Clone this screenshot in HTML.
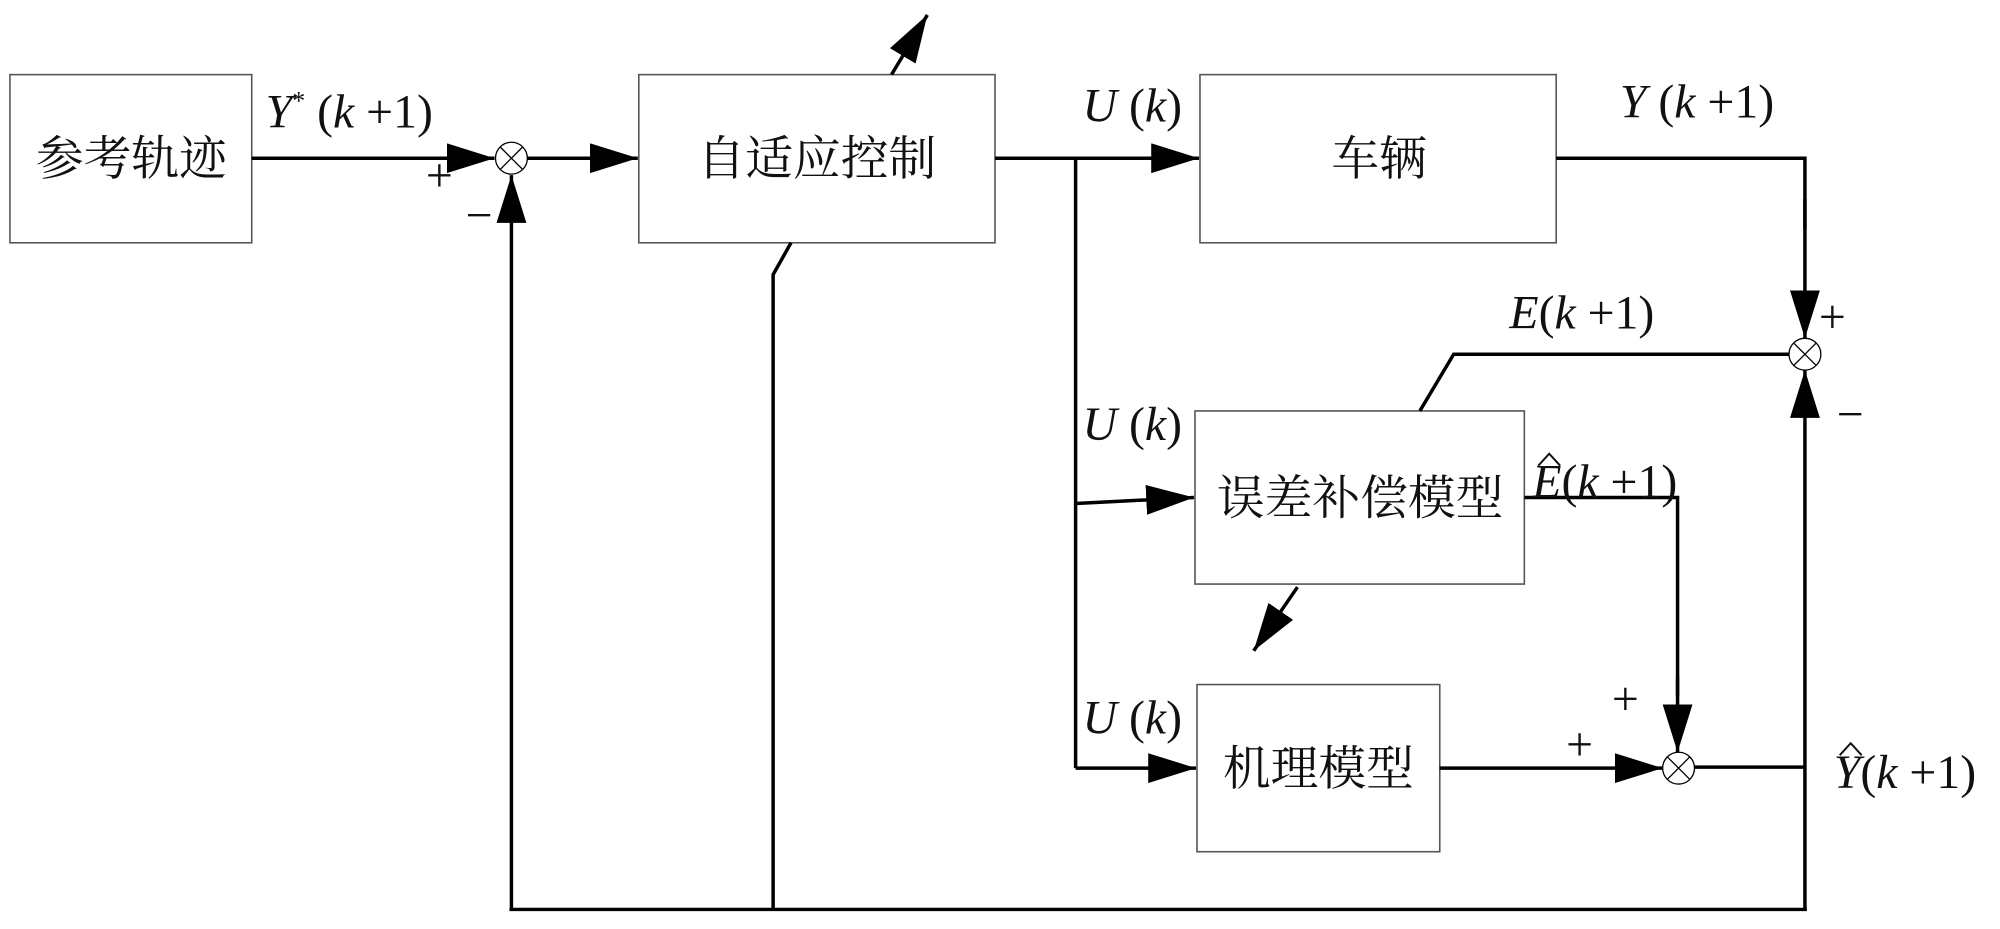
<!DOCTYPE html>
<html><head><meta charset="utf-8"><style>
html,body{margin:0;padding:0;background:#fff;}
svg{display:block;}
.cn{font-family:"Liberation Serif","Noto Serif CJK SC",serif;font-size:48px;fill:#111;}
.m{font-family:"Liberation Serif",serif;font-size:48px;fill:#111;}
.i{font-style:italic;}
</style></head><body>
<svg width="2000" height="929" viewBox="0 0 2000 929" xmlns="http://www.w3.org/2000/svg">
<defs>
<marker id="a" markerWidth="48" markerHeight="30" refX="48" refY="15" orient="auto" markerUnits="userSpaceOnUse">
<path d="M0,0 L48,15 L0,30 Z" fill="#000"/></marker>
</defs>
<g transform="scale(0.995)">
<g fill="none" stroke="#555" stroke-width="1.6">
<rect x="10" y="75" width="243" height="169"/>
<rect x="642" y="75" width="358" height="169"/>
<rect x="1206" y="75" width="358" height="169"/>
<rect x="1201" y="413" width="331" height="174"/>
<rect x="1203" y="688" width="244" height="168"/>
</g>
<g fill="none" stroke="#000" stroke-width="3.5">
<line x1="253" y1="159" x2="497" y2="159" marker-end="url(#a)"/>
<line x1="530" y1="159" x2="641" y2="159" marker-end="url(#a)"/>
<line x1="1000" y1="159" x2="1205" y2="159" marker-end="url(#a)"/>
<line x1="896" y1="75" x2="932" y2="15" marker-end="url(#a)"/>
<polyline points="795,244 777,276 777,914"/>
<line x1="514" y1="914" x2="514" y2="176" marker-end="url(#a)"/>
<line x1="512" y1="914" x2="1816" y2="914"/>
<line x1="1081" y1="159" x2="1081" y2="772"/>
<line x1="1081" y1="506" x2="1200" y2="500" marker-end="url(#a)"/>
<line x1="1081" y1="772" x2="1202" y2="772" marker-end="url(#a)"/>
<polyline points="1564,159 1814,159 1814,230"/>
<line x1="1814" y1="200" x2="1814" y2="340" marker-end="url(#a)"/>
<polyline points="1798,356 1461,356 1427,413"/>
<line x1="1814" y1="914" x2="1814" y2="372" marker-end="url(#a)"/>
<polyline points="1532,500 1686,500 1686,700"/>
<line x1="1686" y1="680" x2="1686" y2="756" marker-end="url(#a)"/>
<line x1="1447" y1="772" x2="1671" y2="772" marker-end="url(#a)"/>
<line x1="1703" y1="771" x2="1814" y2="771"/>
<line x1="1304" y1="590" x2="1260" y2="654" marker-end="url(#a)"/>
</g>
<g fill="#fff" stroke="#000" stroke-width="1.3">
<circle cx="514" cy="159" r="16"/>
<circle cx="1814" cy="356" r="16"/>
<circle cx="1687" cy="772" r="16"/>
</g>
<g stroke="#000" stroke-width="1.3">
<path d="M503,148 L525,170 M525,148 L503,170"/>
<path d="M1803,345 L1825,367 M1825,345 L1803,367"/>
<path d="M1676,761 L1698,783 M1698,761 L1676,783"/>
</g>
<g fill="none" stroke="#111" stroke-width="2">
<path d="M1546,468 L1557,456 L1568,468"/>
<path d="M1849,759 L1860,747 L1871,759"/>
</g>
<text class="cn" x="132" y="176" text-anchor="middle">参考轨迹</text>
<text class="cn" x="821" y="176" text-anchor="middle">自适应控制</text>
<text class="cn" x="1386" y="176" text-anchor="middle">车辆</text>
<text class="cn" x="1367" y="517" text-anchor="middle">误差补偿模型</text>
<text class="cn" x="1325" y="789" text-anchor="middle">机理模型</text>
<text class="m" x="267" y="128"><tspan class="i">Y</tspan><tspan font-size="26" dy="-18">*</tspan><tspan dy="18"> (</tspan><tspan class="i">k</tspan> +1)</text>
<text class="m" x="1088" y="122"><tspan class="i">U</tspan> (<tspan class="i">k</tspan>)</text>
<text class="m" x="1088" y="442"><tspan class="i">U</tspan> (<tspan class="i">k</tspan>)</text>
<text class="m" x="1088" y="737"><tspan class="i">U</tspan> (<tspan class="i">k</tspan>)</text>
<text class="m" x="1628" y="118"><tspan class="i">Y</tspan> (<tspan class="i">k</tspan> +1)</text>
<text class="m" x="1517" y="330"><tspan class="i">E</tspan>(<tspan class="i">k</tspan> +1)</text>
<text class="m" x="1540" y="500"><tspan class="i">E</tspan>(<tspan class="i">k</tspan> +1)</text>
<text class="m" x="1843" y="792"><tspan class="i">Y</tspan>(<tspan class="i">k</tspan> +1)</text>
<text class="m" x="428" y="192">+</text>
<text class="m" x="468" y="232">−</text>
<text class="m" x="1828" y="334">+</text>
<text class="m" x="1846" y="432">−</text>
<text class="m" x="1574" y="764">+</text>
<text class="m" x="1620" y="718">+</text>
</g>
</svg>
</body></html>
